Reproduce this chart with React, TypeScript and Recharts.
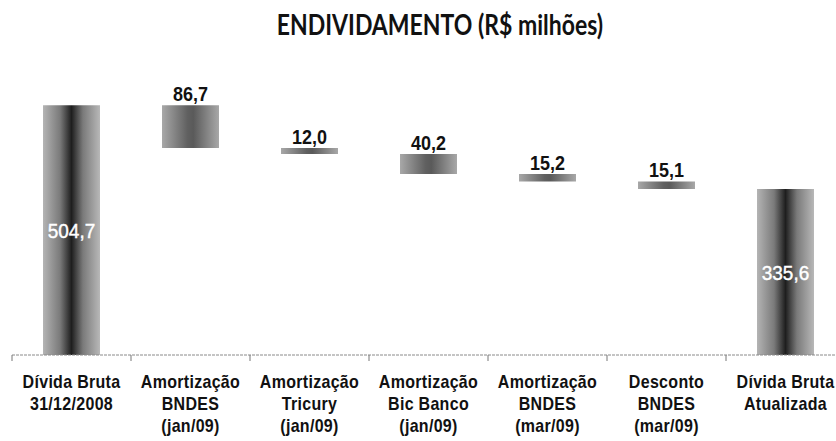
import { BarChart, Bar, XAxis, YAxis, Cell, LabelList } from "recharts";

const categories = [
  "Dívida Bruta|31/12/2008",
  "Amortização|BNDES|(jan/09)",
  "Amortização|Tricury|(jan/09)",
  "Amortização|Bic Banco|(jan/09)",
  "Amortização|BNDES|(mar/09)",
  "Desconto|BNDES|(mar/09)",
  "Dívida Bruta|Atualizada",
];
const values = [504.7, 86.7, 12.0, 40.2, 15.2, 15.1, 335.6];
const kinds = ["total", "step", "step", "step", "step", "step", "total"];

const W = 846;
const H = 441;
const M = { top: 58, right: 1, left: 12, bottom: 0 };
const AXIS_H = 86;
const AXIS_Y = H - AXIS_H;
const BAND = (W - M.left - M.right) / categories.length;

let running = 0;
const data = categories.map((name, i) => {
  const v = values[i];
  let base = 0;
  if (kinds[i] === "total") {
    running = v;
  } else {
    running -= v;
    base = running;
  }
  return { name, base, value: v, kind: kinds[i] };
});

const fmt = (v: number) => v.toFixed(1).replace(".", ",");

function Tick(props: any) {
  const { x, payload, index } = props;
  const lines = String(payload.value).split("|");
  const left = x - BAND / 2;
  return (
    <g>
      <line x1={left} x2={left} y1={AXIS_Y} y2={AXIS_Y + 6} stroke="#777" strokeWidth={1} />
      {index === categories.length - 1 && (
        <line x1={left + BAND} x2={left + BAND} y1={AXIS_Y} y2={AXIS_Y + 6} stroke="#777" />
      )}
      {lines.map((t, k) => (
        <g key={k} transform={`translate(${x},${AXIS_Y + 33 + k * 22}) scale(1,1.15)`}>
          <text
            textAnchor="middle"
            fontFamily="Liberation Sans, Arial, sans-serif"
            fontWeight="bold"
            fontSize={16}
            letterSpacing={0.3}
            fill="#111"
          >
            {t}
          </text>
        </g>
      ))}
    </g>
  );
}

function ValueLabel(props: any) {
  const { x, y, width, height, index } = props;
  const d = data[index];
  const cx = x + width / 2;
  if (d.kind === "total") {
    return (
      <g transform={`translate(${cx},${y + height / 2 + 8}) scale(1,1.1)`}>
        <text
          textAnchor="middle"
          fontFamily="Liberation Sans, Arial, sans-serif"
          fontSize={19}
          stroke="#fff"
          strokeWidth={0.4}
          fill="#fff"
        >
          {fmt(d.value)}
        </text>
      </g>
    );
  }
  return (
    <g transform={`translate(${cx},${y - 4}) scale(1,1.12)`}>
      <text
        textAnchor="middle"
        fontFamily="Liberation Sans, Arial, sans-serif"
        fontWeight="bold"
        fontSize={18}
        fill="#111"
      >
        {fmt(d.value)}
      </text>
    </g>
  );
}

export default function App() {
  return (
    <div
      style={{
        position: "absolute",
        left: 0,
        top: 0,
        width: 836,
        height: H,
        overflow: "hidden",
        background: "#fff",
      }}
    >
      <div
        style={{
          position: "absolute",
          left: 0,
          width: 880,
          top: 10,
          textAlign: "center",
          fontFamily: "Lato, sans-serif",
          fontWeight: 700,
          fontSize: 23,
          color: "#111",
          transform: "scaleY(1.2)",
        }}
      >
        ENDIVIDAMENTO (R$ milhões)
      </div>
      <BarChart width={W} height={H} data={data} margin={M}>
        <defs>
          <linearGradient id="gTotal" x1="0" y1="0" x2="1" y2="0">
            <stop offset="0%" stopColor="#b4b4b4" />
            <stop offset="30%" stopColor="#7a7a7a" />
            <stop offset="50%" stopColor="#1e1e1e" />
            <stop offset="70%" stopColor="#7a7a7a" />
            <stop offset="100%" stopColor="#b8b8b8" />
          </linearGradient>
          <linearGradient id="gStep" x1="0" y1="0" x2="1" y2="0">
            <stop offset="0%" stopColor="#a8a8a8" />
            <stop offset="45%" stopColor="#606060" />
            <stop offset="55%" stopColor="#5a5a5a" />
            <stop offset="100%" stopColor="#a8a8a8" />
          </linearGradient>
        </defs>
        <XAxis
          dataKey="name"
          height={AXIS_H}
          interval={0}
          tickLine={false}
          axisLine={{ stroke: "#8a8a8a", strokeDasharray: "3 1" }}
          tick={<Tick />}
        />
        <YAxis hide domain={[0, 600]} />
        <Bar dataKey="base" stackId="w" fill="transparent" barSize={57} isAnimationActive={false} />
        <Bar dataKey="value" stackId="w" barSize={57} isAnimationActive={false}>
          {data.map((d, i) => (
            <Cell key={i} fill={d.kind === "total" ? "url(#gTotal)" : "url(#gStep)"} />
          ))}
          <LabelList dataKey="value" content={<ValueLabel />} />
        </Bar>
      </BarChart>
    </div>
  );
}
